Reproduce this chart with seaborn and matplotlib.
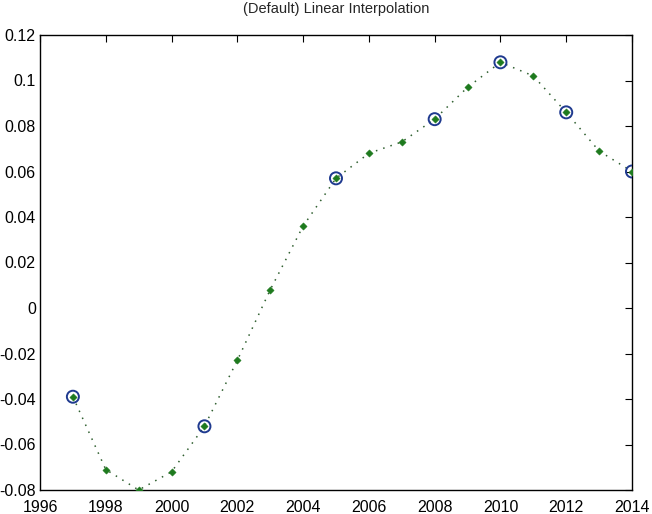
import matplotlib
matplotlib.use("Agg")
import matplotlib.pyplot as plt
import seaborn as sns
import pandas as pd

years = list(range(1997, 2015))
values = [-0.039, -0.071, -0.080, -0.072, -0.052, -0.023, 0.008, 0.036, 0.057,
          0.068, 0.073, 0.083, 0.097, 0.108, 0.102, 0.086, 0.069, 0.060]
known_years = [1997, 2001, 2005, 2008, 2010, 2012, 2014]
known_values = [-0.039, -0.052, 0.057, 0.083, 0.108, 0.086, 0.060]
x_ticks = list(range(1996, 2015, 2))
y_ticks = [-0.08, -0.06, -0.04, -0.02, 0, 0.02, 0.04, 0.06, 0.08, 0.1, 0.12]
y_labels = ["-0.08", "-0.06", "-0.04", "-0.02", "0", "0.02", "0.04", "0.06", "0.08", "0.1", "0.12"]

sns.set_theme(style="white")
plt.rcParams['font.family'] = ['Liberation Sans', 'DejaVu Sans']

df = pd.DataFrame({"year": years, "value": values})
dk = pd.DataFrame({"year": known_years, "value": known_values})

fig = plt.figure(figsize=(6.52, 5.14), dpi=100)
ax = fig.add_axes([40/652, 24/514, 592/652, 455/514])

sns.lineplot(data=df, x="year", y="value", ax=ax, color="#2f5f2f",
             linestyle=(0, (1, 4)), linewidth=1.1)
sns.scatterplot(data=dk, x="year", y="value", ax=ax, marker="o", s=75,
                facecolor="none", edgecolor="#1f3a8f", linewidth=1.4, zorder=3)
sns.scatterplot(data=df, x="year", y="value", ax=ax, marker="D", s=14,
                color="#1e7a1e", edgecolor="#1e7a1e", zorder=4)

ax.set_xlim(1996, 2014)
ax.set_ylim(-0.08, 0.12)
ax.set_xticks(x_ticks)
ax.set_yticks(y_ticks)
ax.set_yticklabels(y_labels)
ax.set_xlabel("")
ax.set_ylabel("")
ax.set_title("(Default) Linear Interpolation", fontsize=10.5, pad=16)
ax.tick_params(direction="in", length=5, width=0.8, top=True, right=True,
               labelsize=11.5, colors="black")
ax.tick_params(axis="x", pad=7)
ax.tick_params(axis="y", pad=3)
for s in ax.spines.values():
    s.set_visible(True)
    s.set_color("black")
    s.set_linewidth(1.0)
ax.set_facecolor("white")
fig.patch.set_facecolor("white")

fig.savefig("out.png", dpi=100)
